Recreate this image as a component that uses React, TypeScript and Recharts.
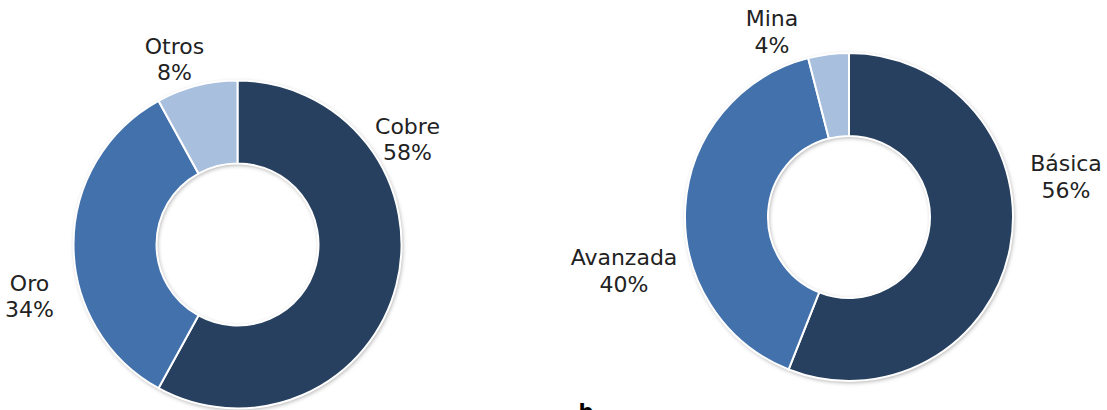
import { PieChart, Pie, Cell } from 'recharts';

const leftCategories = ['Cobre', 'Oro', 'Otros'];
const leftValues = [58, 34, 8];
const rightCategories = ['Básica', 'Avanzada', 'Mina'];
const rightValues = [56, 40, 4];

const SLICE_COLORS = ['#27405F', '#4271AC', '#A8BFDE'];

// where each two-line label sits, as an offset from its donut's centre
const LABEL_OFFSETS: Record<string, [number, number]> = {
  Cobre: [170, -111],
  Oro: [-208, 46],
  Otros: [-63, -191],
  'Básica': [217, -46],
  Avanzada: [-225, 48],
  Mina: [-77, -191],
};

const leftData = leftCategories.map((name, i) => ({ name, value: leftValues[i] }));
const rightData = rightCategories.map((name, i) => ({ name, value: rightValues[i] }));
const ring = [{ name: 'ring', value: 1 }];

const FONT = '"DejaVu Sans", sans-serif';

function renderLabel(props: any) {
  const { cx, cy, payload, value } = props;
  const name = payload?.name ?? props.name;
  const [dx, dy] = LABEL_OFFSETS[name] ?? [0, 0];
  return (
    <text
      x={cx + dx}
      y={cy + dy}
      textAnchor="middle"
      fill="#222"
      fontFamily={FONT}
      fontSize={22}
    >
      <tspan x={cx + dx} dy={0}>{name}</tspan>
      <tspan x={cx + dx} dy={26.5}>{value}%</tspan>
    </text>
  );
}

export default function App() {
  const outer = 164;
  const inner = 81;

  return (
    <div style={{ position: 'absolute', left: 0, top: 0, width: 1107, height: 410, background: '#fff' }}>
      <PieChart width={1107} height={410} margin={{ top: 0, right: 0, bottom: 0, left: 0 }}>
        <defs>
          <filter id="donutShadow" x="-20%" y="-20%" width="140%" height="140%">
            <feDropShadow dx={1} dy={1.5} stdDeviation={2} floodColor="#000" floodOpacity={0.35} />
          </filter>
        </defs>

        {/* soft shadow under each ring */}
        <Pie
          data={ring}
          dataKey="value"
          cx={237.5}
          cy={244.5}
          innerRadius={inner}
          outerRadius={outer}
          fill="#fff"
          stroke="none"
          filter="url(#donutShadow)"
          isAnimationActive={false}
        />
        <Pie
          data={ring}
          dataKey="value"
          cx={849}
          cy={217}
          innerRadius={inner}
          outerRadius={outer}
          fill="#fff"
          stroke="none"
          filter="url(#donutShadow)"
          isAnimationActive={false}
        />

        <Pie
          data={leftData}
          dataKey="value"
          nameKey="name"
          cx={237.5}
          cy={244.5}
          innerRadius={inner}
          outerRadius={outer}
          startAngle={90}
          endAngle={-270}
          stroke="#fff"
          strokeWidth={2}
          label={renderLabel}
          labelLine={false}
          isAnimationActive={false}
        >
          {leftData.map((_, i) => (
            <Cell key={i} fill={SLICE_COLORS[i]} />
          ))}
        </Pie>
        <Pie
          data={rightData}
          dataKey="value"
          nameKey="name"
          cx={849}
          cy={217}
          innerRadius={inner}
          outerRadius={outer}
          startAngle={90}
          endAngle={-270}
          stroke="#fff"
          strokeWidth={2}
          label={renderLabel}
          labelLine={false}
          isAnimationActive={false}
        >
          {rightData.map((_, i) => (
            <Cell key={i} fill={SLICE_COLORS[i]} />
          ))}
        </Pie>

        {/* panel letter, clipped at the bottom edge as in the source */}
        <text x={578.5} y={419} fontFamily={FONT} fontWeight="bold" fontSize={21} fill="#000">
          b
        </text>
      </PieChart>
    </div>
  );
}
